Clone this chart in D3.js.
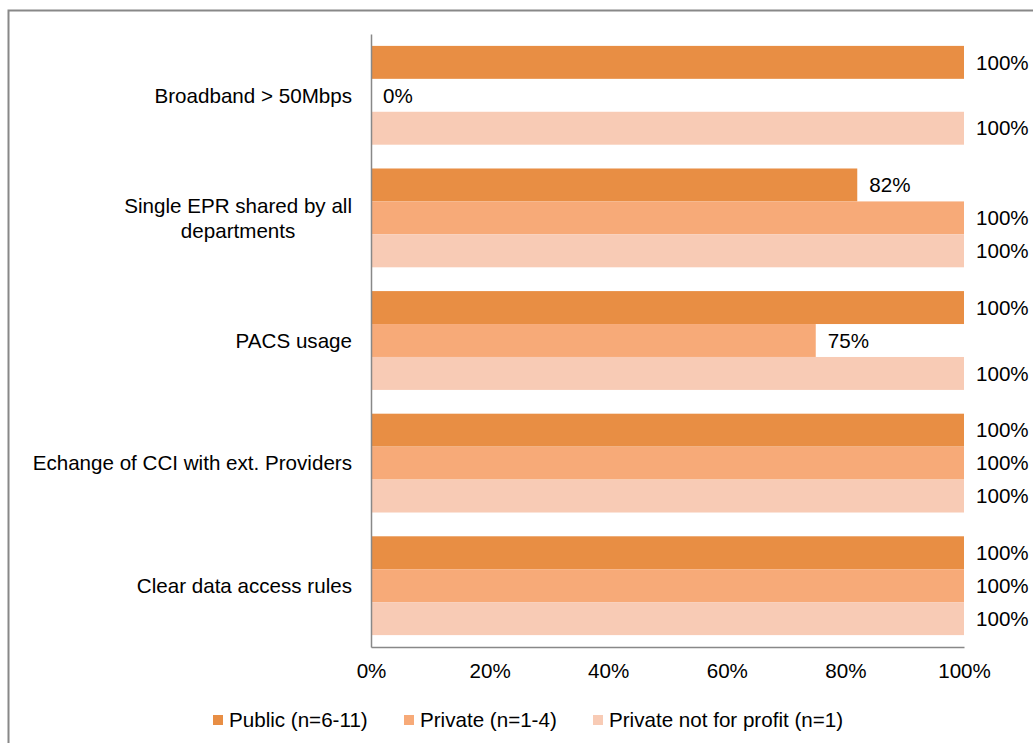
<!DOCTYPE html>
<html><head><meta charset="utf-8">
<script src="https://cdn.jsdelivr.net/npm/d3@7"></script>
<style>body{margin:0;background:#fff;} svg{display:block;font-family:"Liberation Sans",Arial,sans-serif;}</style>
</head><body>
<svg id="chart" width="1033" height="743"></svg>
<script>
const categories = ["Broadband > 50Mbps", "Single EPR shared by all departments", "PACS usage", "Echange of CCI with ext. Providers", "Clear data access rules"];
const categoryLines = [["Broadband > 50Mbps"], ["Single EPR shared by all", "departments"], ["PACS usage"], ["Echange of CCI with ext. Providers"], ["Clear data access rules"]];
const seriesNames = ["Public (n=6-11)", "Private (n=1-4)", "Private not for profit (n=1)"];
const publicValues = [100, 82, 100, 100, 100];
const privateValues = [0, 100, 75, 100, 100];
const pnfpValues = [100, 100, 100, 100, 100];
const tickValues = [0, 20, 40, 60, 80, 100];
const colors = ["#E88E44", "#F7AA78", "#F8CBB5"];

const seriesValues = [publicValues, privateValues, pnfpValues];
const svg = d3.select("#chart");
const fontSize = 20.6;

// outer border
svg.append("rect").attr("x", 8.5).attr("y", 10.5).attr("width", 1040).attr("height", 760)
  .attr("fill", "none").attr("stroke", "#888").attr("stroke-width", 2);

const plot = {left: 371, right: 964, top: 34, bottom: 647};
const x = d3.scaleLinear().domain([0, 100]).range([plot.left, plot.right]);
const y0 = d3.scaleBand().domain(categories).range([plot.top, plot.bottom]).paddingInner(0.194).paddingOuter(0.097);
const y1 = d3.scaleBand().domain(seriesNames).range([0, y0.bandwidth()]);

const groups = svg.append("g").selectAll("g").data(categories).join("g")
  .attr("transform", d => `translate(0,${y0(d)})`);

groups.each(function(cat, ci) {
  const g = d3.select(this);
  seriesNames.forEach((s, si) => {
    const v = seriesValues[si][ci];
    g.append("rect").attr("x", x(0)).attr("y", y1(s)).attr("width", x(v) - x(0))
      .attr("height", y1.bandwidth()).attr("fill", colors[si]);
    g.append("text").attr("x", x(v) + 12).attr("y", y1(s) + y1.bandwidth() / 2)
      .attr("dy", "0.35em").attr("font-size", fontSize).attr("fill", "#000")
      .text(v + "%");
  });
});

// axes lines
const xAxis = d3.axisBottom(x).tickValues(tickValues).tickFormat(d => d + "%").tickSize(0).tickPadding(16);
const xg = svg.append("g").attr("transform", `translate(0,${plot.bottom})`).call(xAxis);
xg.select(".domain").attr("stroke", "#888").attr("stroke-width", 1.5);
xg.selectAll("text").attr("font-size", fontSize).attr("fill", "#000").attr("font-family", "Liberation Sans, Arial, sans-serif");

const yAxis = d3.axisLeft(y0).tickSize(0).tickFormat("");
const yg = svg.append("g").attr("transform", `translate(${plot.left},0)`).call(yAxis);
yg.select(".domain").attr("stroke", "#888").attr("stroke-width", 1.5);

// category labels (multi-line, block right aligned, lines centred)
categories.forEach((c, i) => {
  const lines = categoryLines[i];
  const cy = y0(c) + y0.bandwidth() / 2;
  const lh = 25;
  const t = svg.append("text").attr("font-size", fontSize).attr("fill", "#000");
  lines.forEach((ln, li) => {
    t.append("tspan").attr("y", cy + (li - (lines.length - 1) / 2) * lh).attr("dy", "0.35em").text(ln);
  });
  const spans = t.selectAll("tspan").nodes();
  const widths = spans.map(s => s.getComputedTextLength());
  const maxW = d3.max(widths);
  const rightX = plot.left - 19;
  spans.forEach(s => {
    d3.select(s).attr("x", rightX - maxW / 2).attr("text-anchor", "middle");
  });
});

// legend
const legendItems = [
  {name: seriesNames[0], x: 213},
  {name: seriesNames[1], x: 404},
  {name: seriesNames[2], x: 593}
];
const lg = svg.append("g");
legendItems.forEach((it, i) => {
  lg.append("rect").attr("x", it.x).attr("y", 715).attr("width", 10).attr("height", 10).attr("fill", colors[i]);
  lg.append("text").attr("x", it.x + 16).attr("y", 720).attr("dy", "0.35em")
    .attr("font-size", fontSize).attr("fill", "#000").text(it.name);
});
</script>
</body></html>
